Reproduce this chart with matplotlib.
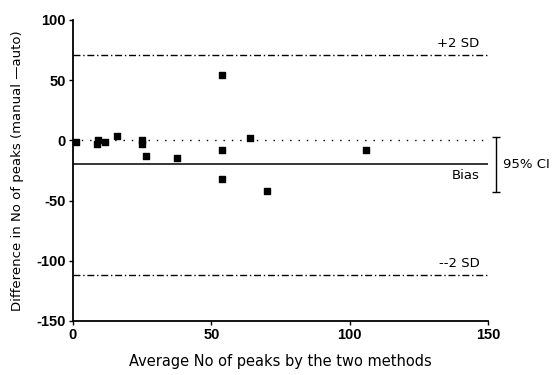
import matplotlib
matplotlib.use("Agg")
import matplotlib.pyplot as plt

plt.rcParams["axes.unicode_minus"] = False

# Bland-Altman data: average vs difference (manual - auto)
avg_peaks = [1, 8.5, 9, 11.5, 16, 25, 25, 26.5, 37.5, 54, 54, 54, 64, 70, 106]
diff_peaks = [-1, -3, 0, -1, 4, 0, -3, -13, -15, 54, -8, -32, 2, -42, -8]

bias = -20
upper_sd = 71
lower_sd = -112
ci_low, ci_high = -43, 3

x_ticks = [0, 50, 100, 150]
y_ticks = [100, 50, 0, -50, -100, -150]

fig = plt.figure(figsize=(5.53, 3.75), dpi=100)
ax = fig.add_axes([0.132, 0.144, 0.7505, 0.8027])

ax.scatter(avg_peaks, diff_peaks, marker="s", s=16, color="black", zorder=3)

ax.axhline(0, color="black", lw=1, ls=(0, (1, 5)))
ax.axhline(bias, color="black", lw=1.1)
ax.axhline(upper_sd, color="black", lw=1, ls=(0, (5, 2, 1, 2)))
ax.axhline(lower_sd, color="black", lw=1, ls=(0, (5, 2, 1, 2)))

ax.text(147, upper_sd + 4, "+2 SD", ha="right", va="bottom", fontsize=9.5)
ax.text(147, bias - 4, "Bias", ha="right", va="top", fontsize=9.5)
ax.text(147, lower_sd + 4, "--2 SD", ha="right", va="bottom", fontsize=9.5)

# 95% CI bracket outside the axes
ax.errorbar([153], [(ci_low + ci_high) / 2], yerr=[[(ci_high - ci_low) / 2]],
            color="black", lw=1, capsize=3, clip_on=False)
ax.text(155.5, (ci_low + ci_high) / 2, "95% CI", ha="left", va="center", fontsize=9.5)

ax.set_xlim(0, 150)
ax.set_ylim(-150, 100)
ax.set_xticks(x_ticks)
ax.set_yticks(y_ticks)
ax.tick_params(direction="out", length=3, width=1, pad=2)
for lab in ax.get_xticklabels() + ax.get_yticklabels():
    lab.set_fontweight("bold")
    lab.set_fontsize(10.5)
    lab.set_family("Liberation Sans")
for s in ["top", "right"]:
    ax.spines[s].set_visible(False)
ax.spines["left"].set_linewidth(1.3)
ax.spines["bottom"].set_linewidth(1.3)

ax.set_xlabel("Average No of peaks by the two methods", fontsize=10.5, labelpad=9)
ax.set_ylabel("Difference in No of peaks (manual \u2014auto)", fontsize=9.5, labelpad=9)

fig.savefig("out.png", dpi=100)
